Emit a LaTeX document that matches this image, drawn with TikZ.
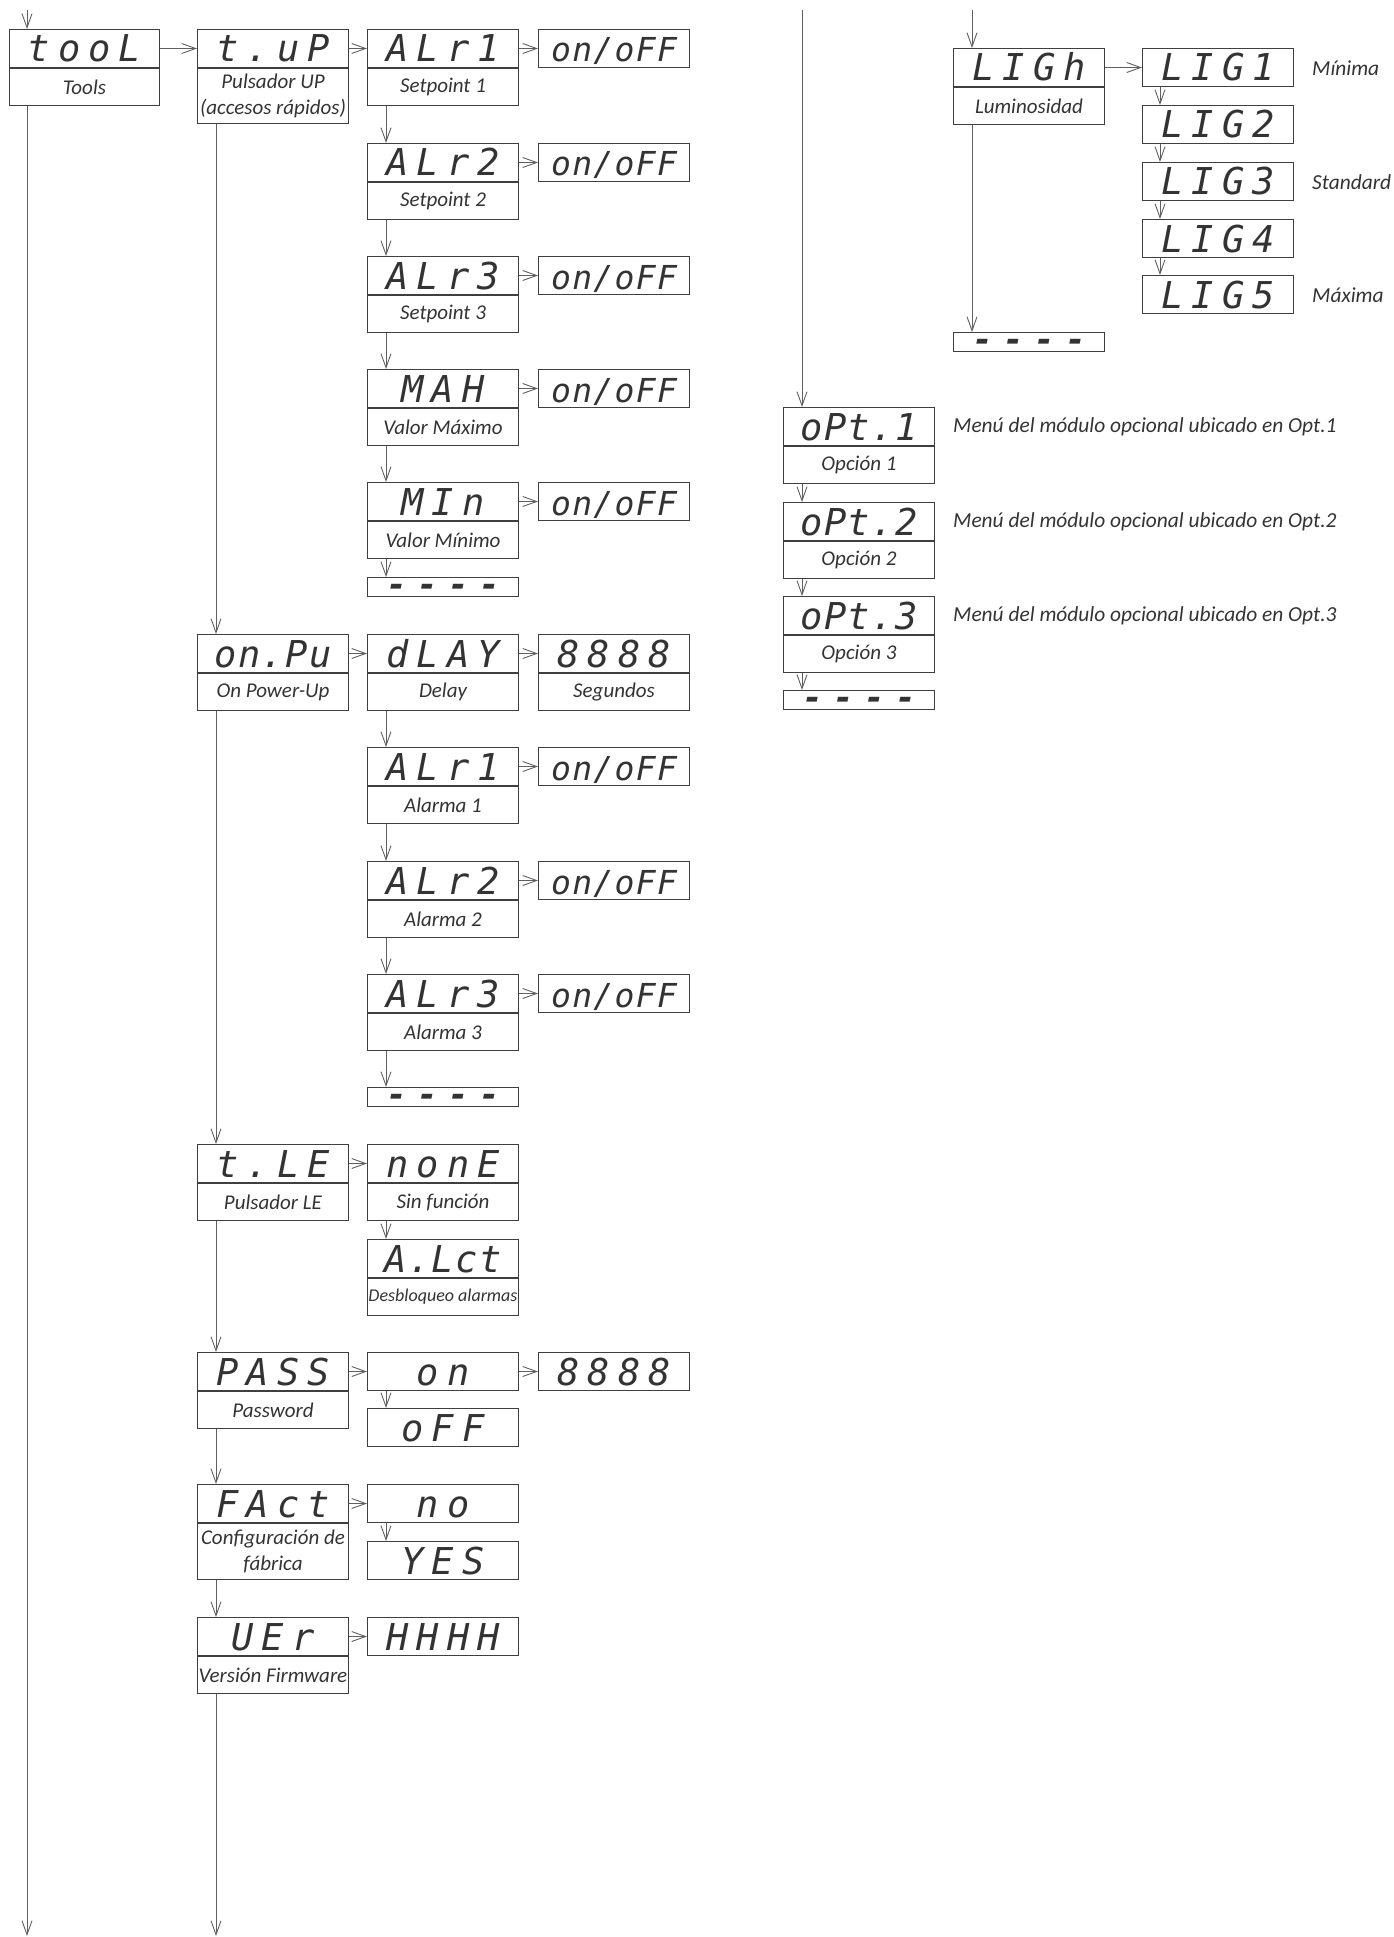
\documentclass[tikz,border=0pt]{standalone}
\usepackage{fontspec}
\setmainfont{Carlito}
\newfontfamily\segfont[LetterSpace=22]{DejaVu Sans Mono}
\newfontfamily\segtight[LetterSpace=4]{DejaVu Sans Mono}
\newfontfamily\segdash[LetterSpace=31]{DejaVu Sans Mono}
\usepackage{tikz}
\usetikzlibrary{positioning}
\usetikzlibrary{arrows.meta}
\definecolor{boxgray}{HTML}{3F3F3F}
\definecolor{linegray}{HTML}{5F5F5F}
\definecolor{txtgray}{HTML}{333333}
\tikzset{
  box_node/.style = {draw=boxgray, line width=1pt, inner sep=0pt,
    minimum width=151pt, text=txtgray},% caja base
  seg_node/.style = {box_node, anchor=north west, minimum height=38pt,
    font=\segfont\itshape\fontsize{37}{37}\selectfont,
    text height=27pt, text depth=0pt},% display 7 segmentos
  seg_tight/.style = {font=\segtight\itshape\fontsize{37}{37}\selectfont},% display con punto
  onoff_node/.style = {seg_node, font=\segtight\itshape\fontsize{33}{33}\selectfont},
  end_node/.style = {box_node, anchor=north west, minimum height=19pt,
    font=\segdash\bfseries\itshape\fontsize{34}{34}\selectfont,
    text height=18pt, text depth=0pt},% fin de menu
  lbl_node/.style = {box_node, minimum height=37pt, align=center,
    font=\itshape\fontsize{21}{26}\selectfont},% texto debajo
  note_node/.style = {anchor=west, inner sep=0pt, text=txtgray,
    font=\itshape\fontsize{21.4}{24}\selectfont},% comentario lateral
  link/.style = {draw=linegray, line width=0.9pt,
    -{Straight Barb[length=14pt, width=10pt]}}
}

\begin{document}
\begin{tikzpicture}[x=1pt, y=-1pt]
  \useasboundingbox (0,0) rectangle (1393,1937);
  \coordinate (in0) at (27,10);
  \coordinate (out0) at (27,1936);
  \coordinate (out1) at (216,1936);
  \coordinate (in_opt) at (802,10);
  \coordinate (in_lig) at (972,10);

  % Tools
  \node [seg_node, minimum width=150pt] (tool) at (9,29) {tooL};
  \node [lbl_node, minimum width=150pt, below=0pt of tool] (tool_l) {Tools};
  \draw [link] (in0) -- ([xshift=18pt]tool.north west);
  \draw [link] ([xshift=18pt]tool_l.south west) -- (out0);

  % primer nivel
  \node [seg_node] (tup) at (197,29) {t.uP};
  \node [lbl_node, minimum height=55pt, below=0pt of tup] (tup_l) {Pulsador UP\\(accesos rápidos)};
  \node [seg_node, seg_tight] (onpu) at (197,634) {on.Pu};
  \node [lbl_node, below=0pt of onpu] (onpu_l) {On Power-Up};
  \node [seg_node] (tle) at (197,1144) {t.LE};
  \node [lbl_node, below=0pt of tle] (tle_l) {Pulsador LE};
  \node [seg_node] (pass) at (197,1352) {PASS};
  \node [lbl_node, below=0pt of pass] (pass_l) {Password};
  \node [seg_node] (fact) at (197,1484) {FAct};
  \node [lbl_node, minimum height=56pt, below=0pt of fact] (fact_l) {Configuración de\\fábrica};
  \node [seg_node] (ver) at (197,1617) {UEr};
  \node [lbl_node, below=0pt of ver] (ver_l) {Versión Firmware};
  \draw [link] (tool.east) -- (tup.west);
  \foreach \a/\b in {tup_l/onpu, onpu_l/tle, tle_l/pass, pass_l/fact, fact_l/ver}
    \draw [link] ([xshift=19pt]\a.south west) -- ([xshift=19pt]\b.north west);
  \draw [link] ([xshift=19pt]ver_l.south west) -- (out1);

  % t.uP: setpoints
  \foreach \n/\y/\d/\t in {s1/29/ALr1/Setpoint 1, s2/143/ALr2/Setpoint 2,
      s3/256/ALr3/Setpoint 3, smax/369/MAH/Valor Máximo, smin/482/MIn/Valor Mínimo} {
    \node [seg_node] (\n) at (367,\y) {\d};
    \node [lbl_node, below=0pt of \n] (\n_l) {\t};
    \node [onoff_node] (\n_v) at (538,\y) {on/oFF};
    \draw [link] (\n.east) -- (\n_v.west);
  }
  \node [end_node] (s_end) at (367,577) {----};
  \draw [link] (tup.east) -- (s1.west);
  \foreach \a/\b in {s1_l/s2, s2_l/s3, s3_l/smax, smax_l/smin, smin_l/s_end}
    \draw [link] ([xshift=19pt]\a.south west) -- ([xshift=19pt]\b.north west);

  % on.Pu: delay y alarmas
  \node [seg_node] (dly) at (367,634) {dLAY};
  \node [lbl_node, below=0pt of dly] (dly_l) {Delay};
  \node [seg_node] (sec) at (538,634) {8888};
  \node [lbl_node, below=0pt of sec] (sec_l) {Segundos};
  \draw [link] (onpu.east) -- (dly.west);
  \draw [link] (dly.east) -- (sec.west);
  \foreach \n/\y/\d/\t in {a1/747/ALr1/Alarma 1, a2/861/ALr2/Alarma 2, a3/974/ALr3/Alarma 3} {
    \node [seg_node] (\n) at (367,\y) {\d};
    \node [lbl_node, below=0pt of \n] (\n_l) {\t};
    \node [onoff_node] (\n_v) at (538,\y) {on/oFF};
    \draw [link] (\n.east) -- (\n_v.west);
  }
  \node [end_node] (a_end) at (367,1087) {----};
  \foreach \a/\b in {dly_l/a1, a1_l/a2, a2_l/a3, a3_l/a_end}
    \draw [link] ([xshift=19pt]\a.south west) -- ([xshift=19pt]\b.north west);

  % t.LE
  \node [seg_node] (none) at (367,1144) {nonE};
  \node [lbl_node, below=0pt of none] (none_l) {Sin función};
  \node [seg_node, seg_tight] (alct) at (367,1239) {A.Lct};
  \node [lbl_node, font=\itshape\fontsize{18}{20}\selectfont, below=0pt of alct] (alct_l) {Desbloqueo alarmas};
  \draw [link] (tle.east) -- (none.west);
  \draw [link] ([xshift=19pt]none_l.south west) -- ([xshift=19pt]alct.north west);

  % PASS
  \node [seg_node] (pon) at (367,1352) {on};
  \node [seg_node] (pin) at (538,1352) {8888};
  \node [seg_node] (poff) at (367,1408) {oFF};
  \draw [link] (pass.east) -- (pon.west);
  \draw [link] (pon.east) -- (pin.west);
  \draw [link] ([xshift=19pt]pon.south west) -- ([xshift=19pt]poff.north west);

  % FAct
  \node [seg_node] (fno) at (367,1484) {no};
  \node [seg_node] (fyes) at (367,1541) {YES};
  \draw [link] (fact.east) -- (fno.west);
  \draw [link] ([xshift=19pt]fno.south west) -- ([xshift=19pt]fyes.north west);

  % UEr
  \node [seg_node] (hhhh) at (367,1617) {HHHH};
  \draw [link] (ver.east) -- (hhhh.west);

  % LIGh
  \node [seg_node] (ligh) at (953,48) {LIGh};
  \node [lbl_node, below=0pt of ligh] (ligh_l) {Luminosidad};
  \foreach \i/\y in {1/48, 2/105, 3/162, 4/219, 5/275}
    \node [seg_node] (lig\i) at (1142,\y) {LIG\i};
  \node [end_node] (lig_end) at (953,332) {----};
  \draw [link] (in_lig) -- ([xshift=19pt]ligh.north west);
  \draw [link] (ligh.east) -- (lig1.west);
  \draw [link] ([xshift=19pt]ligh_l.south west) -- ([xshift=19pt]lig_end.north west);
  \foreach \i/\j in {1/2, 2/3, 3/4, 4/5}
    \draw [link] ([xshift=18pt]lig\i.south west) -- ([xshift=18pt]lig\j.north west);
  \node [note_node] (n_min) at (1312,68) {Mínima};
  \node [note_node] (n_std) at (1312,182) {Standard};
  \node [note_node] (n_max) at (1312,295) {Máxima};

  % opciones
  \foreach \i/\y in {1/407, 2/502, 3/596} {
    \node [seg_node, seg_tight] (opt\i) at (783,\y) {oPt.\i};
    \node [lbl_node, below=0pt of opt\i] (opt\i_l) {Opción \i};
    \node [note_node] (n_opt\i) at (953,\y+20) {Menú del módulo opcional ubicado en Opt.\i};
  }
  \node [end_node] (opt_end) at (783,690) {----};
  \draw [link] (in_opt) -- ([xshift=19pt]opt1.north west);
  \foreach \a/\b in {opt1_l/opt2, opt2_l/opt3, opt3_l/opt_end}
    \draw [link] ([xshift=19pt]\a.south west) -- ([xshift=19pt]\b.north west);
\end{tikzpicture}
\end{document}
